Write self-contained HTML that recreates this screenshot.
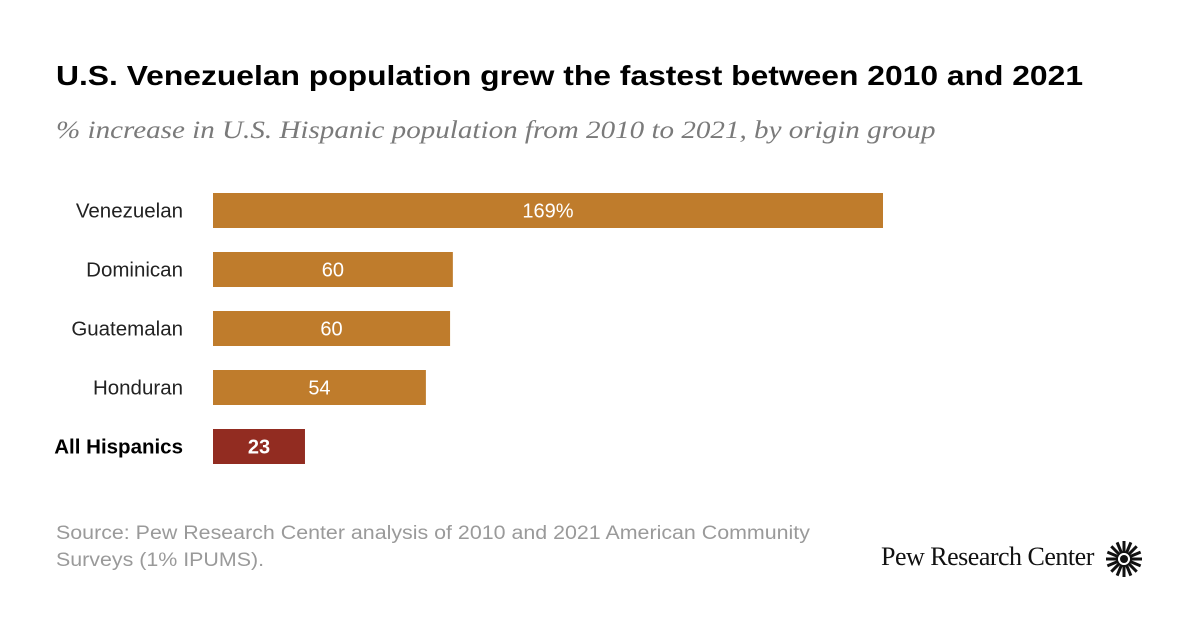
<!DOCTYPE html>
<html><head><meta charset="utf-8"><style>
body{margin:0;width:1200px;height:628px;background:#fff;overflow:hidden;font-family:"Liberation Sans",sans-serif;position:relative}
.t{position:absolute;white-space:nowrap;transform-origin:0 0}
</style></head><body>
<div class="t" style="left:56px;top:60px;font-size:28px;font-weight:bold;color:#000;transform:scaleX(1.136)">U.S. Venezuelan population grew the fastest between 2010 and 2021</div>
<div class="t" style="left:56px;top:117px;font-size:25px;font-style:italic;color:#7a7a7a;font-family:'Liberation Serif',serif;transform:scaleX(1.163)">% increase in U.S. Hispanic population from 2010 to 2021, by origin group</div>
<svg id="chart" width="1200" height="628" style="position:absolute;left:0;top:0"></svg>
<div class="t" style="left:56px;top:520px;font-size:19px;line-height:27px;color:#9a9a9a;transform:scaleX(1.126)">Source: Pew Research Center analysis of 2010 and 2021 American Community<br>Surveys (1% IPUMS).</div>
<div class="t" style="left:881px;top:542px;font-size:26px;font-family:'Liberation Serif',serif;color:#111;letter-spacing:-0.5px">Pew Research Center</div>
<svg width="40" height="40" style="position:absolute;left:1104px;top:539px" viewBox="-20 -20 40 40">
<g id="rays"></g><circle r="4" fill="#111"/></svg>
<script>
const categories=["Venezuelan","Dominican","Guatemalan","Honduran","All Hispanics"];
const values=[169,60.5,59.8,53.7,23.2];
const valueLabels=["169%","60","60","54","23"];
const svg=document.getElementById('chart');const NS="http://www.w3.org/2000/svg";
const x0=213,scale=670/169,y0=193,step=59,bh=35;
const xs=v=>v*scale, ys=i=>y0+i*step;
categories.forEach((c,i)=>{
 const last=i===categories.length-1;
 const r=document.createElementNS(NS,'rect');
 
 
 r.setAttribute('x',x0);r.setAttribute('y',ys(i));r.setAttribute('width',xs(values[i]));r.setAttribute('height',bh);
 r.setAttribute('fill',last?'#922C21':'#BF7C2C');svg.appendChild(r);
 const l=document.createElementNS(NS,'text');
 
 
 l.setAttribute('x',183);l.setAttribute('y',ys(i)+bh/2+7);l.setAttribute('text-anchor','end');
 l.setAttribute('font-size','20.5');l.setAttribute('fill','#222');if(last){l.setAttribute('font-weight','bold');l.setAttribute('fill','#000');}
 l.textContent=c;svg.appendChild(l);
 const v=document.createElementNS(NS,'text');
 
 
 v.setAttribute('x',x0+xs(values[i])/2);v.setAttribute('y',ys(i)+bh/2+7);v.setAttribute('text-anchor','middle');
 v.setAttribute('font-size','20');v.setAttribute('fill','#fff');if(last)v.setAttribute('font-weight','bold');
 v.textContent=valueLabels[i];svg.appendChild(v);
});
const g=document.getElementById('rays');
for(let k=0;k<16;k++){const a=k*Math.PI/8;const p=document.createElementNS(NS,'line');
p.setAttribute('x1',6*Math.cos(a));p.setAttribute('y1',6*Math.sin(a));p.setAttribute('x2',18*Math.cos(a));p.setAttribute('y2',18*Math.sin(a));
p.setAttribute('stroke','#111');p.setAttribute('stroke-width','3');g.appendChild(p);}
</script>
</body></html>
